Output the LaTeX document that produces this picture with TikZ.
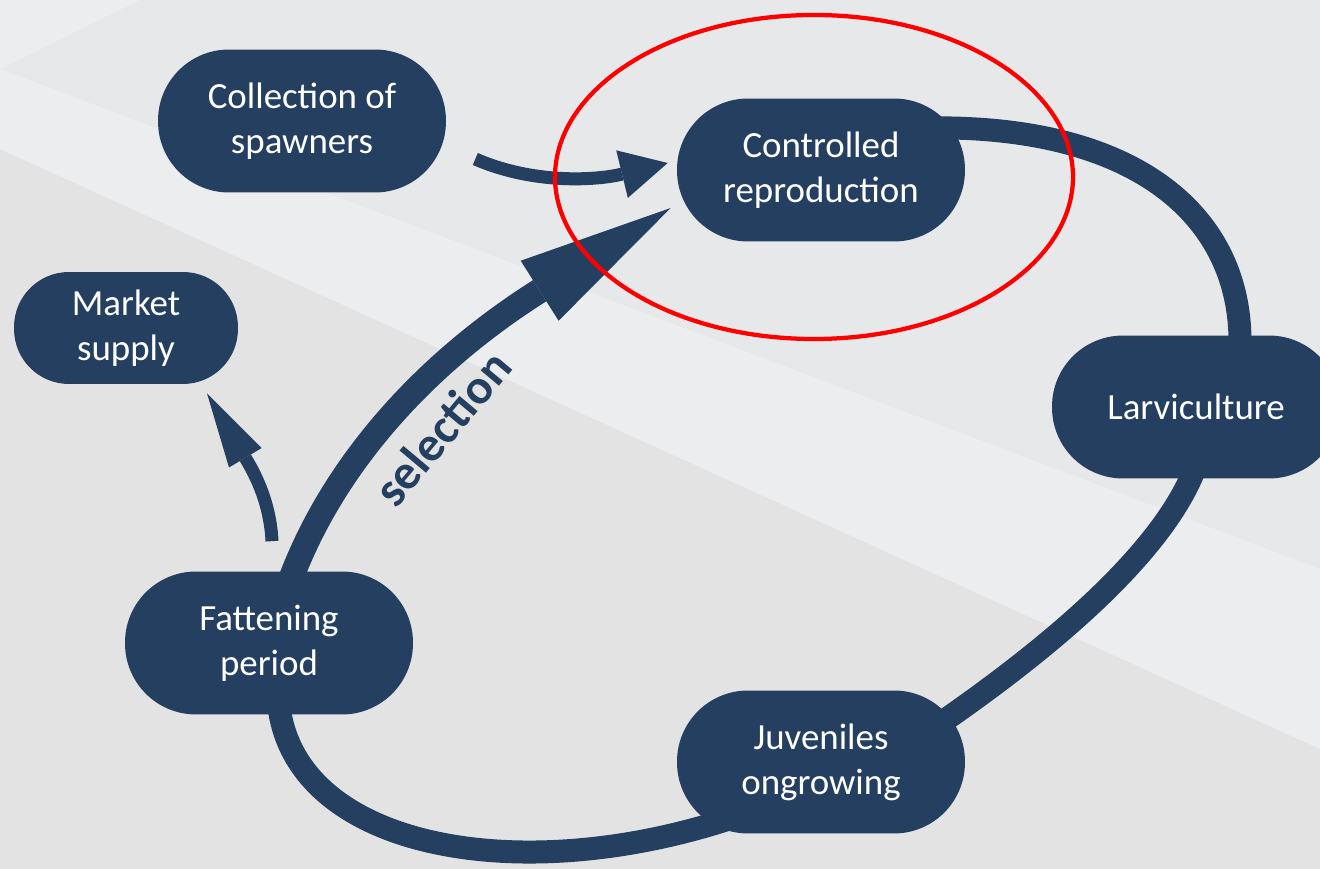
\documentclass[tikz,border=0pt]{standalone}
\usepackage{fontspec}
\setmainfont{Carlito}
\usepackage{tikz}
\usetikzlibrary{arrows.meta,calc}
\definecolor{Navy}{HTML}{243F60}
\definecolor{RingRed}{HTML}{FF0000}
\definecolor{BgDark}{HTML}{E3E3E4}
\definecolor{BgMid}{HTML}{E7E8EA}
\definecolor{BgLight}{HTML}{ECEDEF}
\pgfdeclarelayer{back}
\pgfdeclarelayer{edges}
\pgfsetlayers{back,edges,main}

\begin{document}
\begin{tikzpicture}[
    x=0.02cm,y=0.02cm,
    stage/.style={rectangle,rounded corners=1.42cm,fill=Navy,text=white,minimum width=5.76cm,minimum height=2.86cm,align=center,font=\fontsize{21}{25.6}\selectfont},
    cycleline/.style={line width=0.46cm,draw=Navy},
    pick/.style={line width=0.5cm,draw=Navy,-{Triangle[length=3.1cm,width=1.42cm,line width=0pt]}},
    feed/.style={line width=0.26cm,draw=Navy,-{Triangle[length=0.94cm,width=0.98cm,line width=0pt]}},
    sell/.style={line width=0.26cm,draw=Navy,-{Triangle[length=1.5cm,width=0.76cm,line width=0pt]}},
    focus/.style={draw=RingRed,line width=0.085cm}
]
\useasboundingbox (0,0) rectangle (1320,869);
\begin{pgfonlayer}{back}
\fill[BgDark] (0,0) rectangle (1320,869);
\fill[BgMid] (0,869) -- (1320,869) -- (1320,120) -- (0,720) -- cycle;
\fill[BgLight] (0,720) -- (1320,120) -- (1320,300) -- (0,800) -- cycle;
\fill[BgLight] (0,869) -- (140,869) -- (0,800) -- cycle;
\end{pgfonlayer}

\node[stage] (coll) at (302,748) {Collection of\\spawners};
\node[stage] (ctrl) at (821,699) {Controlled\\reproduction};
\node[stage,minimum width=4.48cm,minimum height=2.24cm,rounded corners=1.1cm] (market) at (126,541) {Market\\supply};
\node[stage] (larv) at (1196,462) {Larviculture};
\node[stage] (fatt) at (269,226) {Fattening\\period};
\node[stage] (juv) at (821,107) {Juveniles\\ongrowing};
\node[font=\bfseries\fontsize{28}{30}\selectfont,text=Navy,rotate=50] (sel) at (442,441) {selection};

\begin{pgfonlayer}{edges}
\draw[cycleline] ($(ctrl.east)+(-40,42)$) .. controls (1140,745) and (1242,650) .. ($(larv.north)+(44,-10)$);
\draw[cycleline] ($(larv.south)+(-2,8)$) .. controls (1160,314) and (1050,221) .. ($(juv)+(114,35)$);
\draw[cycleline] ($(fatt.south)+(10,8)$) .. controls (297,20) and (520,-20) .. ($(juv)+(-86,-55)$);
\draw[pick] ($(fatt.north)+(21,-10)$) .. controls (335,409) and (430,509) .. ($(ctrl.west)+(-6,-38)$);
\draw[feed] ($(coll.east)+(29,-38)$) .. controls (535,684) and (598,689) .. ($(ctrl.west)+(-9,7)$);
\draw[sell] ($(fatt.north)+(3,30)$) .. controls (270,370) and (252,400) .. ($(market.south)+(81,-9)$);
\end{pgfonlayer}

\draw[focus] (814,692) ellipse [x radius=259,y radius=162];
\end{tikzpicture}
\end{document}
